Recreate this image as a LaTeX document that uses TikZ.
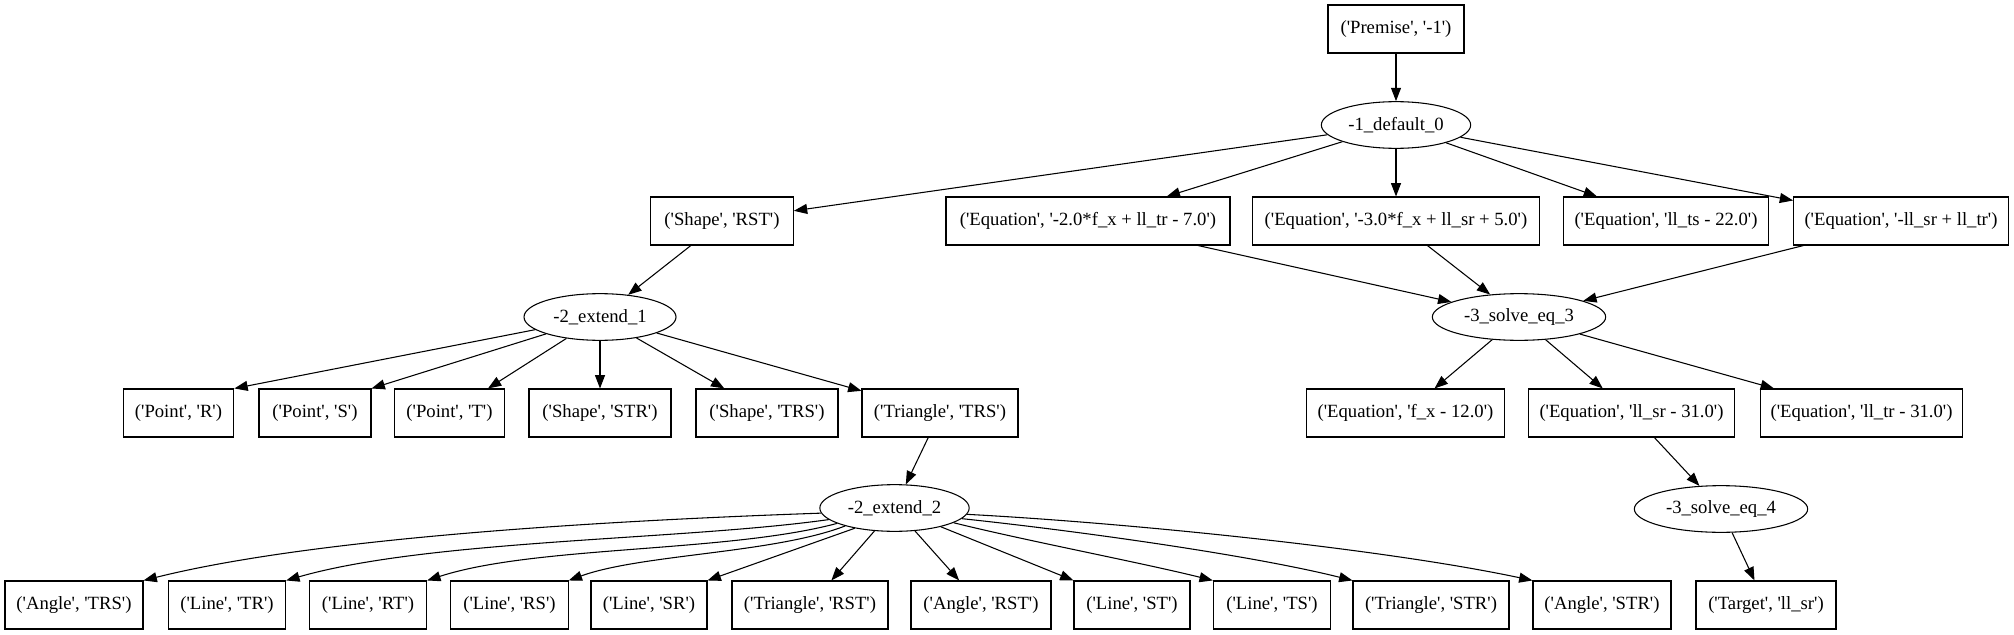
\documentclass[tikz,border=0pt]{standalone}
\usepackage{fontspec}
\newfontfamily\gvfont{Liberation Serif}[Ligatures=TeXOff]
\usetikzlibrary{arrows.meta,shapes.geometric}
\begin{document}
\begin{tikzpicture}[x=0.75pt,y=0.75pt,
  every node/.style={font=\gvfont\fontsize{14pt}{16pt}\selectfont, inner xsep=2pt, inner ysep=0pt},
  bx/.style={draw, rectangle, line width=0.8pt, minimum height=36pt},
  el/.style={draw, ellipse, line width=0.8pt, minimum height=35pt},
  edge/.style={-{Triangle[length=10pt,width=7.5pt]}, line width=0.8pt},
  ]
\useasboundingbox (0,0) rectangle (2014,-635);
% rank 0
\node[bx, minimum width=102pt] (prem) at (1396,-29) {('Premise', '-1')};
\node[el, minimum width=112pt] (d0) at (1396,-125) {-1\_default\_0};
% rank 2
\node[bx, minimum width=107pt] (srst) at (722,-221) {('Shape', 'RST')};
\node[bx, minimum width=213pt] (eq1) at (1088,-221) {('Equation', '-2.0*f\_x + ll\_tr - 7.0')};
\node[bx, minimum width=215pt] (eq2) at (1396,-221) {('Equation', '-3.0*f\_x + ll\_sr + 5.0')};
\node[bx, minimum width=154pt] (eq3) at (1666,-221) {('Equation', 'll\_ts - 22.0')};
\node[bx, minimum width=161pt] (eq4) at (1901,-221) {('Equation', '-ll\_sr + ll\_tr')};
% rank 3
\node[el, minimum width=114pt] (e1) at (600,-317) {-2\_extend\_1};
\node[el, minimum width=130pt] (s3) at (1519,-317) {-3\_solve\_eq\_3};
% rank 4
\node[bx, minimum width=83pt] (pR) at (178.5,-413) {('Point', 'R')};
\node[bx, minimum width=84pt] (pS) at (315,-413) {('Point', 'S')};
\node[bx, minimum width=83pt] (pT) at (449.5,-413) {('Point', 'T')};
\node[bx, minimum width=106.5pt] (sSTR) at (600,-413) {('Shape', 'STR')};
\node[bx, minimum width=106.5pt] (sTRS) at (767,-413) {('Shape', 'TRS')};
\node[bx, minimum width=117pt] (tTRS) at (940,-413) {('Triangle', 'TRS')};
\node[bx, minimum width=149pt] (qfx) at (1405.5,-413) {('Equation', 'f\_x - 12.0')};
\node[bx, minimum width=155pt] (qsr) at (1631.5,-413) {('Equation', 'll\_sr - 31.0')};
\node[bx, minimum width=152pt] (qtr) at (1861.5,-413) {('Equation', 'll\_tr - 31.0')};
% rank 5
\node[el, minimum width=112pt] (e2) at (894.5,-508) {-2\_extend\_2};
\node[el, minimum width=130pt] (s4) at (1721,-509) {-3\_solve\_eq\_4};
% rank 6
\node[bx, minimum width=103.5pt] (aTRS) at (74,-605) {('Angle', 'TRS')};
\node[bx, minimum width=88pt] (lTR) at (227,-605) {('Line', 'TR')};
\node[bx, minimum width=88pt] (lRT) at (368,-605) {('Line', 'RT')};
\node[bx, minimum width=88pt] (lRS) at (509.5,-605) {('Line', 'RS')};
\node[bx, minimum width=87pt] (lSR) at (649,-605) {('Line', 'SR')};
\node[bx, minimum width=117pt] (tRST) at (810,-605) {('Triangle', 'RST')};
\node[bx, minimum width=105pt] (aRST) at (981,-605) {('Angle', 'RST')};
\node[bx, minimum width=87pt] (lST) at (1132,-605) {('Line', 'ST')};
\node[bx, minimum width=88pt] (lTS) at (1272,-605) {('Line', 'TS')};
\node[bx, minimum width=117pt] (tSTR) at (1431,-605) {('Triangle', 'STR')};
\node[bx, minimum width=103.5pt] (aSTR) at (1602,-605) {('Angle', 'STR')};
\node[bx, minimum width=105pt] (tgt) at (1766,-605) {('Target', 'll\_sr')};
% edges
\draw[edge] (prem) -- (d0);
\draw[edge] (d0) -- (srst);
\draw[edge] (d0) -- (eq1);
\draw[edge] (d0) -- (eq2);
\draw[edge] (d0) -- (eq3);
\draw[edge] (d0) -- (eq4);
\draw[edge] (eq1) -- (s3);
\draw[edge] (eq2) -- (s3);
\draw[edge] (eq4) -- (s3);
\draw[edge] (srst) -- (e1);
\draw[edge] (e1) -- (pR.north east);
\draw[edge] (e1) -- (pS.north east);
\draw[edge] (e1) -- (pT);
\draw[edge] (e1) -- (sSTR);
\draw[edge] (e1) -- (sTRS);
\draw[edge] (e1) -- (tTRS);
\draw[edge] (s3) -- (qfx);
\draw[edge] (s3) -- (qsr);
\draw[edge] (s3) -- (qtr);
\draw[edge] (tTRS) -- (e2);
\draw[edge] (qsr) -- (s4);
\draw[edge] (s4) -- (tgt);
\draw[edge] (e2.184) to[out=182, in=14, looseness=0.7] (aTRS.north east);
\draw[edge] (e2.190) to[out=188, in=16, looseness=0.7] (lTR.north east);
\draw[edge] (e2.195) to[out=195, in=18, looseness=0.7] (lRT.north east);
\draw[edge] (e2.200) to[out=201, in=20, looseness=0.7] (lRS.north east);
\draw[edge] (e2.207) -- (lSR.north east);
\draw[edge] (e2) -- (tRST);
\draw[edge] (e2) -- (aRST);
\draw[edge] (e2) -- (lST.north west);
\draw[edge] (e2.-14) to[out=-14, in=166, looseness=0.7] (lTS.north west);
\draw[edge] (e2.-9) to[out=-6, in=166, looseness=0.7] (tSTR.north west);
\draw[edge] (e2.-5) to[out=-3, in=168, looseness=0.7] (aSTR.north west);
\end{tikzpicture}
\end{document}
